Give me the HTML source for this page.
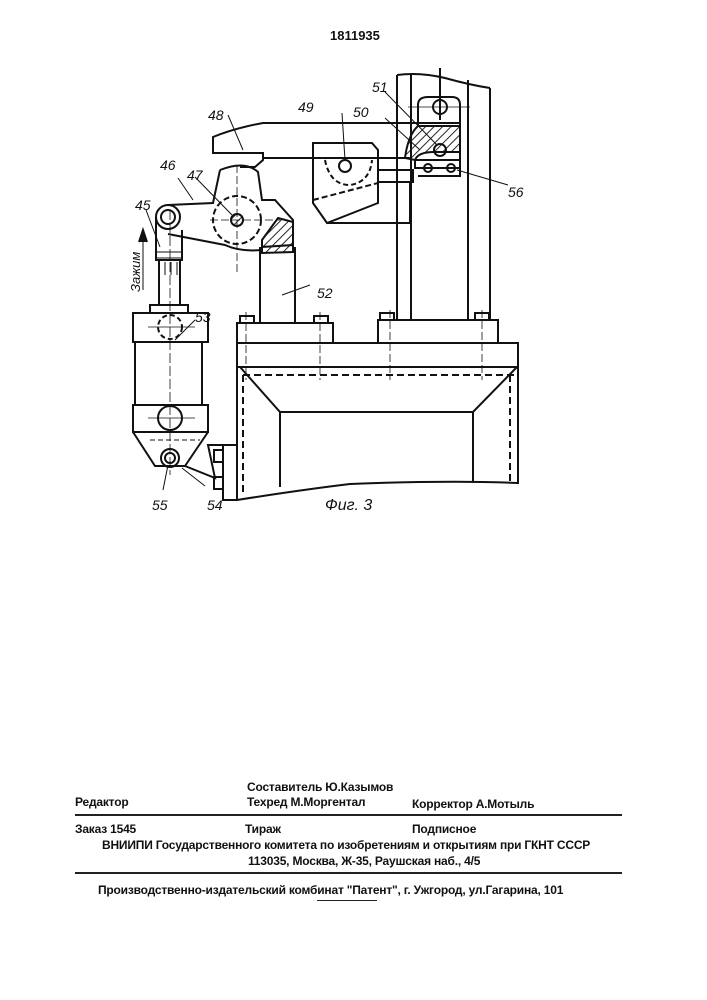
<!DOCTYPE html>
<html><head><meta charset="utf-8"><style>
html,body{margin:0;padding:0;background:#fff}
body{width:707px;height:1000px;position:relative;overflow:hidden;font-family:"Liberation Sans",sans-serif;color:#111}
.t{position:absolute;font-size:12px;white-space:nowrap;font-weight:bold;letter-spacing:-0.2px}
.r{position:absolute;height:1.5px;background:#222}
</style></head><body>
<svg width="707" height="1000" style="position:absolute;left:0;top:0" fill="none" stroke="#111" stroke-width="2">
<defs><pattern id="h" width="6" height="6" patternUnits="userSpaceOnUse" patternTransform="rotate(45)"><line x1="0" y1="0" x2="0" y2="6" stroke="#111" stroke-width="1.8"/></pattern></defs>
<text x="330" y="40" font-size="13" fill="#111" stroke="none" font-family="Liberation Sans" font-weight="bold">1811935</text>
<line x1="397" y1="75" x2="397" y2="320"/><line x1="411" y1="75" x2="411" y2="320"/>
<line x1="468" y1="80" x2="468" y2="320"/><line x1="490" y1="88" x2="490" y2="320"/>
<path d="M397 75 Q420 72 445 78 Q470 85 490 88"/>
<line x1="440" y1="68" x2="440" y2="120"/>
<path d="M418 125 L418 105 Q418 97 428 97 L452 97 Q460 97 460 105 L460 176 L418 176"/>
<circle cx="440" cy="107" r="7"/><path d="M408 107 H470" stroke-width="0.8"/>
<path d="M418 126 L460 126 L460 152 L434 152 Q418 152 415 160 L405 158 Q408 135 418 126Z" fill="url(#h)"/>
<path d="M415 160 L460 160 L460 168 L415 168Z"/>
<circle cx="440" cy="150" r="6"/>
<circle cx="428" cy="168" r="4"/><circle cx="451" cy="168" r="4"/>
<line x1="457" y1="170" x2="508" y2="185" stroke-width="1"/>
<path d="M263 123 L460 123"/>
<path d="M263 123 Q235 128 213 137 L213 153 L263 153 L263 158 L412 158"/>
<path d="M213 153 L263 153 L263 160 L255 167 L240 167" />
<path d="M313 143 L372 143 L378 150 L378 203 L327 223 L313 203 Z"/>
<path d="M378 170 L413 170 L413 182 L378 182"/>
<path d="M327 223 L410 223 L410 182"/>
<circle cx="345" cy="166" r="6"/>
<path d="M325 160 Q330 185 350 185 Q370 182 372 160" stroke-dasharray="5,3"/>
<line x1="313" y1="200" x2="378" y2="183" stroke-dasharray="6,3"/>
<path d="M220 170 Q245 160 258 172 L262 200 L275 200 L293 220 L293 245 L262 247 L262 250 Q240 252 225 245 L168 234"/>
<path d="M220 170 L213 203 L168 205"/>
<circle cx="237" cy="220" r="24" stroke-dasharray="6,3"/>
<circle cx="237" cy="220" r="6" fill="url(#h)"/>
<line x1="210" y1="220" x2="280" y2="220" stroke-width="0.8" stroke-dasharray="8,3"/>
<line x1="237" y1="165" x2="237" y2="275" stroke-width="0.8" stroke-dasharray="8,3"/>
<path d="M278 218 L293 222 L293 252 L262 253 L262 240 Z" fill="url(#h)"/>
<line x1="260" y1="247" x2="260" y2="323"/><line x1="295" y1="247" x2="295" y2="323"/>
<circle cx="168" cy="217" r="12"/><circle cx="168" cy="217" r="7"/>
<path d="M156 217 L156 260 L182 260 L182 230"/>
<path d="M157 252 H181 M157 258 H181" stroke-width="1"/>
<path d="M159 262 V275 M165 262 V275 M171 262 V275 M177 262 V275" stroke-width="1"/>
<line x1="159" y1="260" x2="159" y2="305"/><line x1="180" y1="260" x2="180" y2="305"/>
<rect x="150" y="305" width="38" height="8"/>
<rect x="133" y="313" width="75" height="29"/>
<circle cx="170" cy="327" r="12" stroke-dasharray="5,3"/>
<rect x="135" y="342" width="67" height="63"/>
<rect x="133" y="405" width="75" height="27"/>
<circle cx="170" cy="418" r="12"/>
<path d="M133 432 L155 466 L185 466 L208 432"/>
<circle cx="170" cy="458" r="9"/><circle cx="170" cy="458" r="5"/>
<line x1="170" y1="210" x2="170" y2="475" stroke-width="0.8" stroke-dasharray="10,3"/>
<line x1="148" y1="327" x2="195" y2="327" stroke-width="0.8"/><line x1="148" y1="418" x2="195" y2="418" stroke-width="0.8"/>
<line x1="150" y1="440" x2="200" y2="440" stroke-dasharray="5,3" stroke-width="1"/>
<path d="M185 466 L215 478 L208 445 L237 445"/>
<rect x="214" y="450" width="9" height="12"/><rect x="214" y="477" width="9" height="12"/>
<path d="M223 445 L223 500 L237 500"/>
<rect x="237" y="323" width="96" height="20"/>
<rect x="378" y="320" width="120" height="23"/>
<rect x="237" y="343" width="281" height="24"/>
<rect x="240" y="316" width="14" height="7"/><rect x="314" y="316" width="14" height="7"/>
<rect x="380" y="313" width="14" height="7"/><rect x="475" y="313" width="14" height="7"/>
<path d="M237 367 L237 500 Q300 490 350 484 Q450 480 518 483 L518 367"/>
<path d="M240 367 L280 412 L473 412 L517 367"/>
<line x1="280" y1="412" x2="280" y2="487"/><line x1="473" y1="412" x2="473" y2="483"/>
<path d="M243 375 H515 M243 375 V495 M510 375 V483" stroke-dasharray="7,4"/>
<line x1="246" y1="312" x2="246" y2="380" stroke-width="0.8" stroke-dasharray="8,3"/>
<line x1="320" y1="312" x2="320" y2="380" stroke-width="0.8" stroke-dasharray="8,3"/>
<line x1="390" y1="310" x2="390" y2="380" stroke-width="0.8" stroke-dasharray="8,3"/>
<line x1="482" y1="310" x2="482" y2="380" stroke-width="0.8" stroke-dasharray="8,3"/>
<g stroke-width="1"><line x1="228" y1="115" x2="243" y2="150"/><line x1="342" y1="113" x2="345" y2="160"/>
<line x1="385" y1="118" x2="420" y2="150"/><line x1="385" y1="92" x2="437" y2="145"/>
<line x1="178" y1="178" x2="193" y2="200"/><line x1="195" y1="177" x2="232" y2="215"/>
<line x1="146" y1="210" x2="160" y2="247"/><line x1="195" y1="320" x2="175" y2="340"/>
<line x1="282" y1="295" x2="310" y2="285"/><line x1="163" y1="490" x2="168" y2="465"/>
<line x1="205" y1="486" x2="182" y2="468"/></g>
<line x1="143" y1="232" x2="143" y2="290" stroke-width="1"/>
<path d="M139 242 L143 230 L147 242" fill="#111"/>
<g font-family="Liberation Sans" font-size="14" fill="#111" stroke="none" font-style="italic">
<text x="208" y="120">48</text><text x="298" y="112">49</text><text x="353" y="117">50</text><text x="372" y="92">51</text>
<text x="508" y="197">56</text><text x="160" y="170">46</text><text x="187" y="180">47</text><text x="135" y="210">45</text>
<text x="317" y="298">52</text><text x="195" y="322">53</text><text x="152" y="510">55</text><text x="207" y="510">54</text>
<text x="325" y="510" font-size="16">Фиг. 3</text>
<text transform="translate(140,292) rotate(-90)" font-size="13">Зажим</text>
</g>
</svg>
<div class="t" style="left:247px;top:780px">Составитель Ю.Казымов</div>
<div class="t" style="left:75px;top:795px">Редактор</div>
<div class="t" style="left:247px;top:795px">Техред М.Моргентал</div>
<div class="t" style="left:412px;top:797px">Корректор А.Мотыль</div>
<div class="r" style="left:75px;top:814px;width:547px"></div>
<div class="t" style="left:75px;top:822px">Заказ 1545</div>
<div class="t" style="left:245px;top:822px">Тираж</div>
<div class="t" style="left:412px;top:822px">Подписное</div>
<div class="t" style="left:102px;top:838px">ВНИИПИ Государственного комитета по изобретениям и открытиям при ГКНТ СССР</div>
<div class="t" style="left:248px;top:854px">113035, Москва, Ж-35, Раушская наб., 4/5</div>
<div class="r" style="left:75px;top:872px;width:547px"></div>
<div class="t" style="left:98px;top:883px">Производственно-издательский комбинат "Патент", г. Ужгород, ул.Гагарина, 101</div>
<div class="r" style="left:317px;top:900px;width:60px;height:1px"></div>
</body></html>
